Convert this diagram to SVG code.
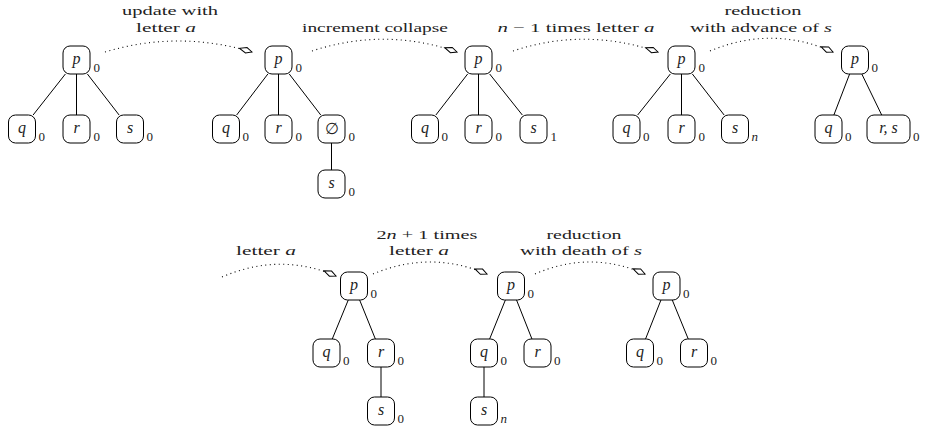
<svg xmlns="http://www.w3.org/2000/svg" width="925" height="433" viewBox="0 0 925 433">
<defs>
<style>
.box{fill:#fff;stroke:#000;stroke-width:1}
.edge{stroke:#000;stroke-width:1;fill:none}
.arr{fill:none;stroke:#000;stroke-width:1.1;stroke-dasharray:1 3.5}
.lbl{font-family:'Liberation Serif',serif;font-size:13.5px;text-anchor:middle;fill:#222}
.nt{font-family:'Liberation Serif',serif;font-style:italic;font-size:16px;text-anchor:middle;fill:#222}
.sub{font-family:'Liberation Serif',serif;font-size:13px;fill:#222}
.it{font-style:italic}
</style>
<marker id="ah" markerUnits="userSpaceOnUse" markerWidth="16" markerHeight="10" refX="0" refY="0" orient="auto" overflow="visible">
<path d="M0,0 L-6,-2.8 L-13,0 L-6,2.8 Z" fill="#fff" stroke="#000" stroke-width="1"/>
</marker>
</defs>
<rect width="925" height="433" fill="#fff"/>

<g id="connectors">
<path class="edge" d="M65.4,74 L33.1,115 M76.5,74 L76.5,115 M87.4,74 L119.1,115"/>
<path class="edge" d="M267.85,74 L236.65,115 M278.5,74 L278.5,115 M289.25,74 L320.75,115 M331.5,143 L331.5,170"/>
<path class="edge" d="M467.64,74 L435.86,115 M478.5,74 L478.5,115 M489.66,74 L522.34,115"/>
<path class="edge" d="M670.34,74 L637.66,115 M681.5,74 L681.5,115 M692.36,74 L724.14,115"/>
<path class="edge" d="M849.62,74 L833.88,115 M861.8,74 L881.7,115"/>
<path class="edge" d="M348.25,300 L332.25,339 M359.64,300 L375.36,339 M381,367 L381,397"/>
<path class="edge" d="M505.36,300 L489.64,339 M516.54,300 L531.96,339 M484,367 L484,397"/>
<path class="edge" d="M660.96,300 L645.54,339 M672.25,300 L688.25,339"/>
<path class="arr" marker-end="url(#ah)" d="M105,52 Q178,30 252,52"/>
<path class="arr" marker-end="url(#ah)" d="M312,51 Q385,27 457,52"/>
<path class="arr" marker-end="url(#ah)" d="M513,51 Q585,27 658,52"/>
<path class="arr" marker-end="url(#ah)" d="M710,51 Q772,25 833,52"/>
<path class="arr" marker-end="url(#ah)" d="M222,277 Q280,252 336,276"/>
<path class="arr" marker-end="url(#ah)" d="M373,274 Q430,250 487,274"/>
<path class="arr" marker-end="url(#ah)" d="M535,274 Q590,250 645,274"/>
</g>

<g id="labels">
<text class="lbl" x="170" y="15" textLength="96" lengthAdjust="spacingAndGlyphs">update with</text>
<text class="lbl" x="166" y="32" textLength="60" lengthAdjust="spacingAndGlyphs">letter <tspan class="it">a</tspan></text>
<text class="lbl" x="375" y="32" textLength="146" lengthAdjust="spacingAndGlyphs">increment collapse</text>
<text class="lbl" x="576" y="32" textLength="157" lengthAdjust="spacingAndGlyphs"><tspan class="it">n</tspan> − 1 times letter <tspan class="it">a</tspan></text>
<text class="lbl" x="763" y="15" textLength="77" lengthAdjust="spacingAndGlyphs">reduction</text>
<text class="lbl" x="761" y="32" textLength="142" lengthAdjust="spacingAndGlyphs">with advance of <tspan class="it">s</tspan></text>
<text class="lbl" x="266" y="255" textLength="60" lengthAdjust="spacingAndGlyphs">letter <tspan class="it">a</tspan></text>
<text class="lbl" x="427" y="239" textLength="101" lengthAdjust="spacingAndGlyphs">2<tspan class="it">n</tspan> + 1 times</text>
<text class="lbl" x="419" y="255" textLength="60" lengthAdjust="spacingAndGlyphs">letter <tspan class="it">a</tspan></text>
<text class="lbl" x="584" y="239" textLength="75" lengthAdjust="spacingAndGlyphs">reduction</text>
<text class="lbl" x="581" y="255" textLength="122" lengthAdjust="spacingAndGlyphs">with death of <tspan class="it">s</tspan></text>
</g>

<g id="t1-p"><rect class="box" x="63" y="46" width="27" height="28" rx="7"/><text class="nt" x="76.5" y="64">p</text><text class="sub" x="93.5" y="72">0</text></g>
<g id="t1-q"><rect class="box" x="8.5" y="115" width="27" height="28" rx="7"/><text class="nt" x="22" y="133">q</text><text class="sub" x="38.5" y="141">0</text></g>
<g id="t1-r"><rect class="box" x="63" y="115" width="27" height="28" rx="7"/><text class="nt" x="76.5" y="133">r</text><text class="sub" x="93.5" y="141">0</text></g>
<g id="t1-s"><rect class="box" x="116.5" y="115" width="27" height="28" rx="7"/><text class="nt" x="130" y="133">s</text><text class="sub" x="146.5" y="141">0</text></g>

<g id="t2-p"><rect class="box" x="265" y="46" width="27" height="28" rx="7"/><text class="nt" x="278.5" y="64">p</text><text class="sub" x="295.5" y="72">0</text></g>
<g id="t2-q"><rect class="box" x="212.5" y="115" width="27" height="28" rx="7"/><text class="nt" x="226" y="133">q</text><text class="sub" x="242.5" y="141">0</text></g>
<g id="t2-r"><rect class="box" x="265" y="115" width="27" height="28" rx="7"/><text class="nt" x="278.5" y="133">r</text><text class="sub" x="295.5" y="141">0</text></g>
<g id="t2-empty"><rect class="box" x="318" y="115" width="27" height="28" rx="7"/><text class="nt" style="font-style:normal" x="331.5" y="134">∅</text><text class="sub" x="348.5" y="141">0</text></g>
<g id="t2-s"><rect class="box" x="318" y="170" width="27" height="28" rx="7"/><text class="nt" x="331.5" y="188">s</text><text class="sub" x="348.5" y="196">0</text></g>

<g id="t3-p"><rect class="box" x="465" y="46" width="27" height="28" rx="7"/><text class="nt" x="478.5" y="64">p</text><text class="sub" x="495.5" y="72">0</text></g>
<g id="t3-q"><rect class="box" x="411.5" y="115" width="27" height="28" rx="7"/><text class="nt" x="425" y="133">q</text><text class="sub" x="441.5" y="141">0</text></g>
<g id="t3-r"><rect class="box" x="465" y="115" width="27" height="28" rx="7"/><text class="nt" x="478.5" y="133">r</text><text class="sub" x="495.5" y="141">0</text></g>
<g id="t3-s"><rect class="box" x="520" y="115" width="27" height="28" rx="7"/><text class="nt" x="533.5" y="133">s</text><text class="sub" x="550.5" y="141">1</text></g>

<g id="t4-p"><rect class="box" x="668" y="46" width="27" height="28" rx="7"/><text class="nt" x="681.5" y="64">p</text><text class="sub" x="698.5" y="72">0</text></g>
<g id="t4-q"><rect class="box" x="613" y="115" width="27" height="28" rx="7"/><text class="nt" x="626.5" y="133">q</text><text class="sub" x="643" y="141">0</text></g>
<g id="t4-r"><rect class="box" x="668" y="115" width="27" height="28" rx="7"/><text class="nt" x="681.5" y="133">r</text><text class="sub" x="698.5" y="141">0</text></g>
<g id="t4-s"><rect class="box" x="721.5" y="115" width="27" height="28" rx="7"/><text class="nt" x="735" y="133">s</text><text class="sub it" x="751.5" y="141">n</text></g>

<g id="t5-p"><rect class="box" x="841.5" y="46" width="27" height="28" rx="7"/><text class="nt" x="855" y="64">p</text><text class="sub" x="871.5" y="72">0</text></g>
<g id="t5-q"><rect class="box" x="815" y="115" width="27" height="28" rx="7"/><text class="nt" x="828.5" y="133">q</text><text class="sub" x="845" y="141">0</text></g>
<g id="t5-rs"><rect class="box" x="867" y="115" width="43" height="28" rx="7"/><text class="nt" x="888.5" y="133">r, s</text><text class="sub" x="913" y="141">0</text></g>

<g id="t6-p"><rect class="box" x="340.5" y="272" width="27" height="28" rx="7"/><text class="nt" x="354" y="290">p</text><text class="sub" x="370.5" y="298">0</text></g>
<g id="t6-q"><rect class="box" x="313" y="339" width="27" height="28" rx="7"/><text class="nt" x="326.5" y="357">q</text><text class="sub" x="343" y="365">0</text></g>
<g id="t6-r"><rect class="box" x="367.5" y="339" width="27" height="28" rx="7"/><text class="nt" x="381" y="357">r</text><text class="sub" x="397.5" y="365">0</text></g>
<g id="t6-s"><rect class="box" x="367.5" y="397" width="27" height="28" rx="7"/><text class="nt" x="381" y="415">s</text><text class="sub" x="397.5" y="423">0</text></g>

<g id="t7-p"><rect class="box" x="497.5" y="272" width="27" height="28" rx="7"/><text class="nt" x="511" y="290">p</text><text class="sub" x="527.5" y="298">0</text></g>
<g id="t7-q"><rect class="box" x="470.5" y="339" width="27" height="28" rx="7"/><text class="nt" x="484" y="357">q</text><text class="sub" x="500.5" y="365">0</text></g>
<g id="t7-r"><rect class="box" x="524" y="339" width="27" height="28" rx="7"/><text class="nt" x="537.5" y="357">r</text><text class="sub" x="554" y="365">0</text></g>
<g id="t7-s"><rect class="box" x="470.5" y="397" width="27" height="28" rx="7"/><text class="nt" x="484" y="415">s</text><text class="sub it" x="500.5" y="423">n</text></g>

<g id="t8-p"><rect class="box" x="653" y="272" width="27" height="28" rx="7"/><text class="nt" x="666.5" y="290">p</text><text class="sub" x="683" y="298">0</text></g>
<g id="t8-q"><rect class="box" x="626.5" y="339" width="27" height="28" rx="7"/><text class="nt" x="640" y="357">q</text><text class="sub" x="656.5" y="365">0</text></g>
<g id="t8-r"><rect class="box" x="680.5" y="339" width="27" height="28" rx="7"/><text class="nt" x="694" y="357">r</text><text class="sub" x="710.5" y="365">0</text></g>
</svg>
